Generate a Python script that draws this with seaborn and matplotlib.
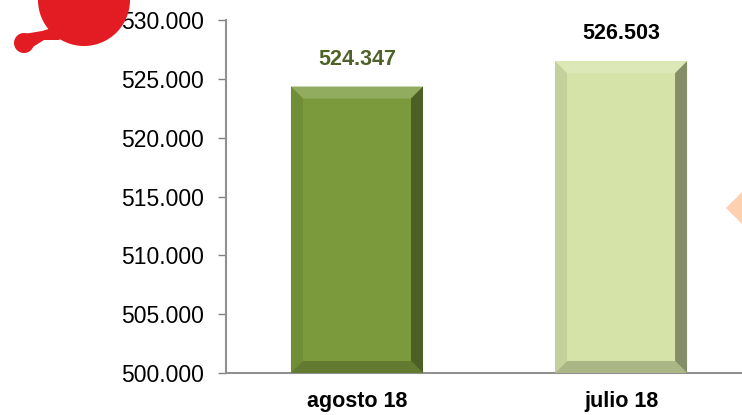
import matplotlib
matplotlib.use("Agg")
import matplotlib.pyplot as plt
import seaborn as sns
import pandas as pd
import numpy as np
from matplotlib.patches import Polygon, Ellipse

categories = ["agosto 18", "julio 18"]
values = [524347, 526503]
value_labels = ["524.347", "526.503"]
yticks = [500000, 505000, 510000, 515000, 520000, 525000, 530000]
ytick_labels = ["500.000", "505.000", "510.000", "515.000", "520.000", "525.000", "530.000"]

bar_colors = ["#7a9a3c", "#d5e3a8"]
label_colors = ["#4f6228", "#000000"]

sns.set_theme(style="white")
plt.rcParams['font.family'] = ['Liberation Sans', 'DejaVu Sans']

fig = plt.figure(figsize=(7.42, 4.15), dpi=100)
ax = fig.add_axes([226/742, 42/415, 1 - 226/742, (373-20)/415])

df = pd.DataFrame({"cat": categories, "val": values})
sns.barplot(data=df, x="cat", y="val", hue="cat", palette=bar_colors, width=0.5,
            legend=False, ax=ax, saturation=1)

ax.set_ylim(500000, 530000)
ax.set_xlim(-0.496, 1.458)
ax.set_yticks(yticks)
ax.set_yticklabels(ytick_labels, fontsize=16.5, color="black")
ax.set_xticks(range(len(categories)))
ax.set_xticklabels(categories, fontsize=15.5, fontweight="bold", color="black")
ax.tick_params(axis="x", length=0, pad=13)
ax.tick_params(axis="y", length=6, width=1, color="#808080", pad=10, left=True, direction="out")
ax.set_xlabel("")
ax.set_ylabel("")
for s in ["top", "right"]:
    ax.spines[s].set_visible(False)
for s in ["left", "bottom"]:
    ax.spines[s].set_color("#909090")
    ax.spines[s].set_linewidth(1.5)

fig.canvas.draw()

# bevel effect computed from the drawn bars
inv = ax.transData.inverted()
bev = 12
for i, p in enumerate(list(ax.patches)):
    p.set_edgecolor("none")
    x0 = p.get_x()
    x1 = x0 + p.get_width()
    y1 = p.get_y() + p.get_height()
    (X0, Y0) = ax.transData.transform((x0, 500000))
    (X1, Y1) = ax.transData.transform((x1, y1))
    def d(px, py):
        return inv.transform((px, py))
    top = [d(X0, Y1), d(X1, Y1), d(X1 - bev, Y1 - bev), d(X0 + bev, Y1 - bev)]
    right = [d(X1, Y1), d(X1, Y0), d(X1 - bev, Y0 + bev), d(X1 - bev, Y1 - bev)]
    left = [d(X0, Y1), d(X0 + bev, Y1 - bev), d(X0 + bev, Y0 + bev), d(X0, Y0)]
    bottom = [d(X0, Y0), d(X0 + bev, Y0 + bev), d(X1 - bev, Y0 + bev), d(X1, Y0)]
    base = np.array(matplotlib.colors.to_rgb(bar_colors[i]))
    light = np.clip(base + (1 - base) * 0.18, 0, 1)
    dark = base * 0.62
    midl = base * 0.92
    midb = base * 0.8
    ax.add_patch(Polygon(top, closed=True, facecolor=light, edgecolor="none", zorder=3))
    ax.add_patch(Polygon(left, closed=True, facecolor=midl, edgecolor="none", zorder=3))
    ax.add_patch(Polygon(bottom, closed=True, facecolor=midb, edgecolor="none", zorder=3))
    ax.add_patch(Polygon(right, closed=True, facecolor=dark, edgecolor="none", zorder=3))
    ax.annotate(value_labels[i], ((x0 + x1) / 2, y1), xytext=(0, 12),
                textcoords="offset points", ha="center", va="bottom",
                fontsize=15.5, fontweight="bold", color=label_colors[i])

# decorative red blob (top-left) and orange diamond (right edge)
W, H = 742, 415
def fx(x): return x / W
def fy(y): return 1 - y / H
red = "#e31b23"
fig.patches.append(Ellipse((fx(84), fy(0)), 2*46/W, 2*46/H, transform=fig.transFigure,
                           facecolor=red, edgecolor="none"))
fig.patches.append(Ellipse((fx(24), fy(43)), 2*10/W, 2*10/H, transform=fig.transFigure,
                           facecolor=red, edgecolor="none"))
fig.patches.append(Polygon([(fx(24), fy(34)), (fx(42), fy(31)), (fx(52), fy(28)),
                            (fx(60), fy(40)), (fx(44), fy(40)), (fx(28), fy(50))],
                           closed=True, transform=fig.transFigure, facecolor=red, edgecolor="none"))
fig.patches.append(Polygon([(fx(726), fy(208)), (fx(750), fy(184)), (fx(774), fy(208)), (fx(750), fy(232))],
                           closed=True, transform=fig.transFigure, facecolor="#fdd0b0", edgecolor="none"))

fig.savefig("out.png", dpi=100)
